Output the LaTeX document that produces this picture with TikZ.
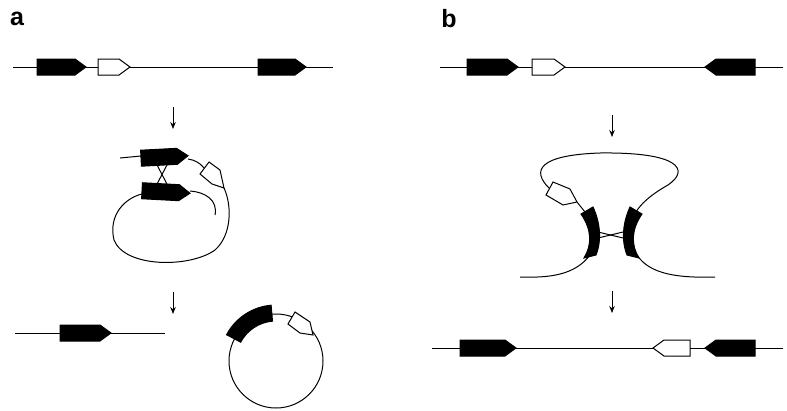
\documentclass[tikz,border=0pt]{standalone}
\usepackage{fontspec}
\setmainfont{Liberation Sans}
\usetikzlibrary{arrows.meta}
\begin{document}
\begin{tikzpicture}[x=1pt,y=-1pt,line width=1pt,
  lab/.style={font=\bfseries\fontsize{25}{25}\selectfont,anchor=center},
  arr/.style={-{Stealth[length=7pt,width=5.5pt]},line width=0.9pt}]
\useasboundingbox (0,0) rectangle (787,410);
\newcommand{\gR}[4]{\draw[fill=#4] (#1,#3-8) -- (#2-11,#3-8) -- (#2,#3) -- (#2-11,#3+8) -- (#1,#3+8) -- cycle;}
\newcommand{\gL}[4]{\draw[fill=#4] (#2,#3-8) -- (#1+11,#3-8) -- (#1,#3) -- (#1+11,#3+8) -- (#2,#3+8) -- cycle;}
\node[lab] (la) at (17,19) {a};
\node[lab] (lb) at (449,19) {b};
% panel a top
\draw (13,67) -- (333,67);
\gR{37}{86}{67}{black}\gR{98}{130}{67}{white}\gR{258}{306}{67}{black}
\coordinate (a1) at (173,107); \coordinate (a2) at (173,129);
\draw[arr] (a1) -- (a2);
% loop
\draw (120,158) -- (141,156);
\draw (188,159) .. controls (195,160) and (200,163) .. (204,168);
\draw (224,188) .. controls (232,205) and (232,235) .. (215,250) .. controls (190,268) and (125,268) .. (114,240) .. controls (108,215) and (125,198) .. (142,194);
\draw (190,191) .. controls (205,192) and (218,200) .. (215,215);
\draw (156,163) -- (168,186);
\draw (168,163) -- (156,186);
\begin{scope}[rotate around={3:(164,157)}]\gR{141}{188}{157}{black}\end{scope}
\begin{scope}[rotate around={-3:(166,192)}]\gR{142}{190}{192}{black}\end{scope}
\draw[fill=white] (200,174) -- (209,162) -- (220,170) -- (224,188) -- (212,184) -- cycle;
\coordinate (a3) at (173,292); \coordinate (a4) at (173,314);
\draw[arr] (a3) -- (a4);
% bottom a
\draw (15,333) -- (165,333);
\gR{60}{111}{333}{black}
\draw (276,361) circle (47);
\draw[fill=black] (276,361) ++(-95:40) arc (-95:-152:40) -- ++(-152:16) arc (-152:-95:56) -- cycle;
\draw[fill=white] (288,324) -- (295,312) -- (310,322) -- (313,335) -- (300,333) -- cycle;
% panel b top
\draw (440,67) -- (783,67);
\gR{467}{518}{67}{black}\gR{532}{565}{67}{white}\gL{705}{755}{67}{black}
\coordinate (b1) at (612,115); \coordinate (b2) at (612,137);
\draw[arr] (b1) -- (b2);
% b loop
\draw (550,189) .. controls (530,170) and (540,155) .. (600,153) .. controls (680,152) and (690,170) .. (668,185) .. controls (650,195) and (640,205) .. (636,212);
\draw (577,202) -- (585,212);
\draw (590,255) .. controls (575,275) and (550,278) .. (520,277);
\draw (637,255) .. controls (650,275) and (680,278) .. (715,277);
\draw (598,232) -- (623,238);
\draw (598,238) -- (623,232);
\draw[fill=black] (581,214) .. controls (592,230) and (592,245) .. (584,258) -- (596,255) .. controls (602,240) and (600,222) .. (593,207) -- cycle;
\draw[fill=black] (642,214) .. controls (631,230) and (631,245) .. (639,258) -- (627,255) .. controls (621,240) and (623,222) .. (630,207) -- cycle;
\draw[fill=white] (546,195) -- (553,182) -- (570,189) -- (577,202) -- (563,205) -- cycle;
\coordinate (b3) at (612,291); \coordinate (b4) at (612,313);
\draw[arr] (b3) -- (b4);
% bottom b
\draw (432,348) -- (783,348);
\gR{460}{516}{348}{black}\gL{653}{690}{348}{white}\gL{705}{755}{348}{black}
\end{tikzpicture}
\end{document}
